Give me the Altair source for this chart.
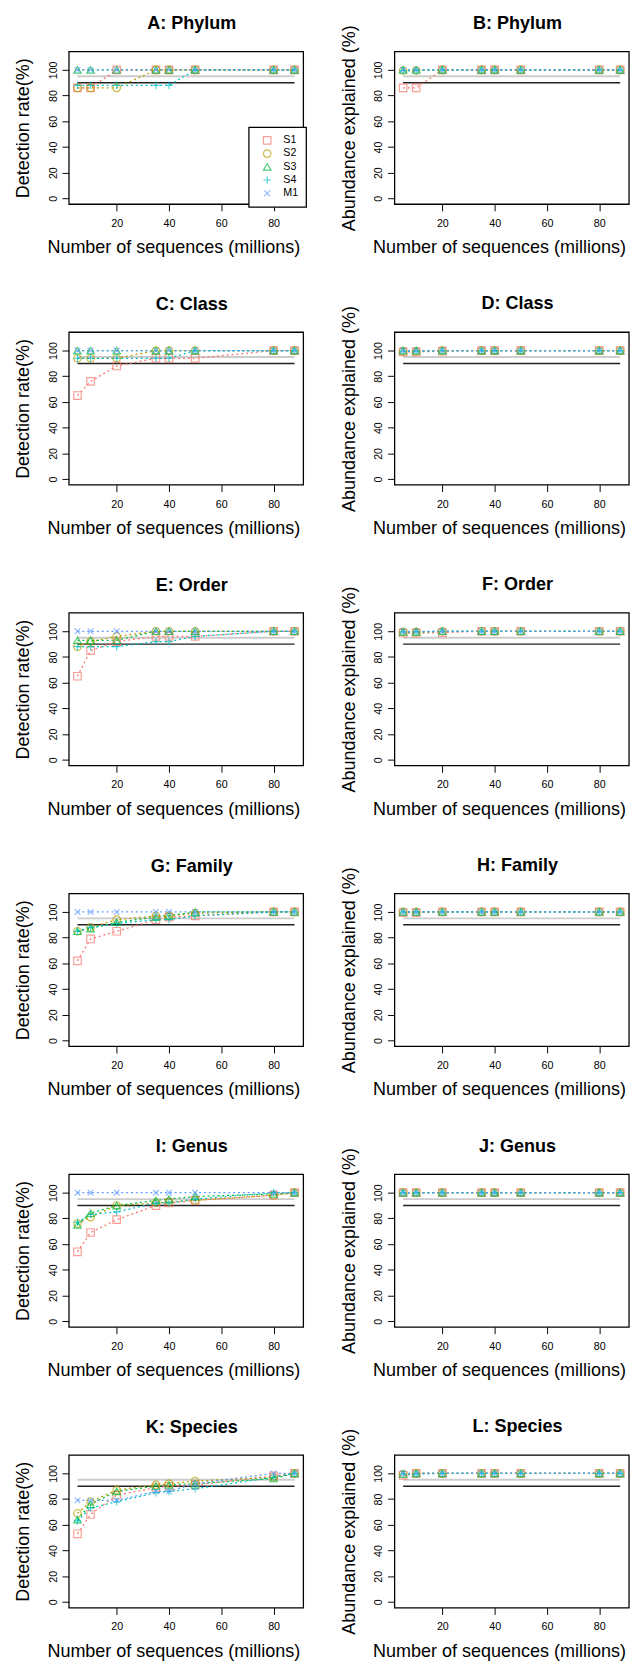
import altair as alt
import pandas as pd

SEQ = [5, 10, 20, 35, 40, 50, 80, 88]
SERIES = ["S1", "S2", "S3", "S4", "M1"]
COLORS = ["#F8766D", "#B79F00", "#00BA38", "#00BFC4", "#619CFF"]
SHAPES = ["square", "circle", "triangle-up",
          "M-1,0L1,0M0,-1L0,1",
          "M-0.75,-0.75L0.75,0.75M-0.75,0.75L0.75,-0.75"]
X_TICKS = [20, 40, 60, 80]
Y_TICKS = [0, 20, 40, 60, 80, 100]
THRESH_Y = [95, 90]
THRESH_COLOR = ["#cccccc", "#222222"]
THRESH_WIDTH = [2.0, 1.5]

XLAB = "Number of sequences (millions)"
YLAB_DET = "Detection rate(%)"
YLAB_ABU = "Abundance explained (%)"

# A: Phylum detection
A_S1 = [86, 86, 100, 100, 100, 100, 100, 100]
A_S2 = [86, 86, 86, 100, 100, 100, 100, 100]
A_S3 = [100, 100, 100, 100, 100, 100, 100, 100]
A_S4 = [88, 88, 88, 88, 88, 100, 100, 100]
A_M1 = [100, 100, 100, 100, 100, 100, 100, 100]
# B: Phylum abundance
B_S1 = [86, 86, 100, 100, 100, 100, 100, 100]
B_S2 = [99.5, 99.5, 100, 100, 100, 100, 100, 100]
B_S3 = [100, 100, 100, 100, 100, 100, 100, 100]
B_S4 = [99.5, 99.5, 100, 100, 100, 100, 100, 100]
B_M1 = [100, 100, 100, 100, 100, 100, 100, 100]
# C: Class detection
C_S1 = [65, 76, 88, 94, 94, 94, 100, 100]
C_S2 = [94, 94, 94, 100, 100, 100, 100, 100]
C_S3 = [100, 100, 100, 100, 100, 100, 100, 100]
C_S4 = [94, 94, 94, 94, 94, 100, 100, 100]
C_M1 = [100, 100, 100, 100, 100, 100, 100, 100]
# D: Class abundance
D_S1 = [99, 99, 99.5, 100, 100, 100, 100, 100]
D_S2 = [99.5, 99.5, 100, 100, 100, 100, 100, 100]
D_S3 = [100, 100, 100, 100, 100, 100, 100, 100]
D_S4 = [99.5, 99.5, 100, 100, 100, 100, 100, 100]
D_M1 = [100, 100, 100, 100, 100, 100, 100, 100]
# E: Order detection
E_S1 = [65, 85, 92, 96, 96, 96, 100, 100]
E_S2 = [88, 92, 96, 100, 100, 100, 100, 100]
E_S3 = [93, 93, 93, 100, 100, 100, 100, 100]
E_S4 = [88, 88, 88, 92, 92, 96, 100, 100]
E_M1 = [100, 100, 100, 100, 100, 100, 100, 100]
# F: Order abundance
F_S1 = [98.5, 98.5, 99, 100, 100, 100, 100, 100]
F_S2 = [99.5, 99.5, 100, 100, 100, 100, 100, 100]
F_S3 = [99.5, 99.5, 100, 100, 100, 100, 100, 100]
F_S4 = [99.5, 99.5, 100, 100, 100, 100, 100, 100]
F_M1 = [100, 100, 100, 100, 100, 100, 100, 100]
# G: Family detection
G_S1 = [62, 79, 85, 94, 96, 97, 100, 100]
G_S2 = [85, 88, 94, 97, 97, 99, 100, 100]
G_S3 = [85, 87, 92, 96, 97, 100, 100, 100]
G_S4 = [85, 88, 91, 94, 94, 97, 100, 100]
G_M1 = [100, 100, 100, 100, 100, 100, 100, 100]
# H: Family abundance
H_S1 = [99.5, 99.5, 100, 100, 100, 100, 100, 100]
H_S2 = [100, 100, 100, 100, 100, 100, 100, 100]
H_S3 = [100, 100, 100, 100, 100, 100, 100, 100]
H_S4 = [100, 100, 100, 100, 100, 100, 100, 100]
H_M1 = [100, 100, 100, 100, 100, 100, 100, 100]
# I: Genus detection
I_S1 = [54, 69, 79, 90, 92, 94, 98, 100]
I_S2 = [76, 81, 90, 92, 93, 94, 98, 100]
I_S3 = [75, 84, 90, 94, 95, 97, 99, 100]
I_S4 = [77, 83, 85, 92, 92, 95, 100, 100]
I_M1 = [100, 100, 100, 100, 100, 100, 100, 100]
# J: Genus abundance
J_S1 = [100, 100, 100, 100, 100, 100, 100, 100]
J_S2 = [100, 100, 100, 100, 100, 100, 100, 100]
J_S3 = [100, 100, 100, 100, 100, 100, 100, 100]
J_S4 = [100, 100, 100, 100, 100, 100, 100, 100]
J_M1 = [100, 100, 100, 100, 100, 100, 100, 100]
# K: Species detection
K_S1 = [53, 68, 83, 89, 90, 91, 98, 100]
K_S2 = [69, 78, 87, 91, 92, 94, 97, 100]
K_S3 = [64, 76, 86, 90, 91, 92, 96, 100]
K_S4 = [63, 73, 78, 85, 86, 88, 97, 100]
K_M1 = [79, 79, 79, 86, 86, 92, 100, 100]
# L: Species abundance
L_S1 = [98.5, 100, 100, 100, 100, 100, 100, 100]
L_S2 = [99.5, 100, 100, 100, 100, 100, 100, 100]
L_S3 = [99.5, 100, 100, 100, 100, 100, 100, 100]
L_S4 = [99.5, 99.5, 100, 100, 100, 100, 100, 100]
L_M1 = [100, 100, 100, 100, 100, 100, 100, 100]

PANELS = [
    ("A: Phylum", YLAB_DET, [A_S1, A_S2, A_S3, A_S4, A_M1]),
    ("B: Phylum", YLAB_ABU, [B_S1, B_S2, B_S3, B_S4, B_M1]),
    ("C: Class", YLAB_DET, [C_S1, C_S2, C_S3, C_S4, C_M1]),
    ("D: Class", YLAB_ABU, [D_S1, D_S2, D_S3, D_S4, D_M1]),
    ("E: Order", YLAB_DET, [E_S1, E_S2, E_S3, E_S4, E_M1]),
    ("F: Order", YLAB_ABU, [F_S1, F_S2, F_S3, F_S4, F_M1]),
    ("G: Family", YLAB_DET, [G_S1, G_S2, G_S3, G_S4, G_M1]),
    ("H: Family", YLAB_ABU, [H_S1, H_S2, H_S3, H_S4, H_M1]),
    ("I: Genus", YLAB_DET, [I_S1, I_S2, I_S3, I_S4, I_M1]),
    ("J: Genus", YLAB_ABU, [J_S1, J_S2, J_S3, J_S4, J_M1]),
    ("K: Species", YLAB_DET, [K_S1, K_S2, K_S3, K_S4, K_M1]),
    ("L: Species", YLAB_ABU, [L_S1, L_S2, L_S3, L_S4, L_M1]),
]

W = 241
H = 157
FONT = "Liberation Sans"

x_scale = alt.Scale(domain=[1.68, 91.32], nice=False, zero=False)
y_scale = alt.Scale(domain=[-4.4, 114.4], nice=False, zero=False)
color_scale = alt.Scale(domain=SERIES, range=COLORS)
shape_scale = alt.Scale(domain=SERIES, range=SHAPES)

LEGEND = alt.Legend(orient="bottom-right", offset=-3, title=None,
                    strokeColor="black", fillColor="white", padding=8,
                    rowPadding=0.6, labelFontSize=11, labelFont=FONT,
                    labelColor="black", symbolSize=60, symbolStrokeWidth=1.2,
                    labelOffset=11, symbolOffset=5.5)


def make_panel(title, ylab, vals, with_legend, right_col):
    rows = []
    for s, vv in zip(SERIES, vals):
        for x, v in zip(SEQ, vv):
            rows.append({"seq": x, "val": v, "series": s})
    df = pd.DataFrame(rows)
    thr = pd.DataFrame({"y": THRESH_Y, "x1": [SEQ[0]] * 2, "x2": [SEQ[-1]] * 2,
                        "c": THRESH_COLOR, "w": THRESH_WIDTH})

    xax = alt.Axis(values=X_TICKS, title=XLAB, titleX=W / 2 - 13)
    yax = alt.Axis(values=Y_TICKS, title=ylab)

    rules = alt.Chart(thr).mark_rule().encode(
        x=alt.X("x1:Q", scale=x_scale, axis=xax),
        x2="x2:Q",
        y=alt.Y("y:Q", scale=y_scale, axis=yax),
        color=alt.Color("c:N", scale=None),
        strokeWidth=alt.StrokeWidth("w:Q", scale=None),
    )
    leg = LEGEND if with_legend else None
    lines = alt.Chart(df).mark_line(strokeDash=[2, 3], strokeWidth=1.3).encode(
        x=alt.X("seq:Q", scale=x_scale, axis=xax),
        y=alt.Y("val:Q", scale=y_scale, axis=yax),
        color=alt.Color("series:N", scale=color_scale, legend=leg),
        detail="series:N",
    )
    points = alt.Chart(df).mark_point(filled=False, size=60, strokeWidth=1.2).encode(
        x=alt.X("seq:Q", scale=x_scale, axis=xax),
        y=alt.Y("val:Q", scale=y_scale, axis=yax),
        color=alt.Color("series:N", scale=color_scale, legend=leg),
        shape=alt.Shape("series:N", scale=shape_scale, legend=leg),
    )
    return alt.layer(rules, lines, points).properties(
        width=W, height=H,
        title=alt.TitleParams(title, fontSize=18.5, fontWeight="bold", font=FONT,
                              color="black", dx=6, offset=(-22.7 if right_col else 4),
                              baseline="alphabetic"),
    )


charts = [make_panel(t, yl, v, i == 0, i % 2 == 1) for i, (t, yl, v) in enumerate(PANELS)]

base = alt.concat(
    *charts, columns=2, spacing={"row": 131.6, "column": 93.8}, bounds="flush"
).resolve_legend(
    color="independent", shape="independent"
).properties(
    padding={"left": 4.5, "top": -18, "right": 0, "bottom": 0}
).configure_view(
    stroke="black", strokeWidth=1.3
).configure_axis(
    grid=False, domain=False, ticks=True, tickSize=7, tickColor="black", tickWidth=1,
    labelFont=FONT, labelFontSize=11, labelColor="black",
    titleFont=FONT, titleFontSize=18.5, titleFontWeight="normal", titleColor="black",
).configure_axisY(
    labelAngle=270, labelAlign="center", labelBaseline="bottom", labelPadding=4,
    minExtent=22, maxExtent=22, titlePadding=15.5,
).configure_axisX(
    labelPadding=7, minExtent=26, maxExtent=26, titlePadding=9,
)

try:
    chart = base.configure_legend(strokeColor="black", strokeWidth=1.3, fillColor="white")
    chart.to_dict()
except Exception:
    chart = base.configure_legend(strokeColor="black", fillColor="white")

chart.save("out.html", embed_options={"renderer": "svg", "actions": False})
